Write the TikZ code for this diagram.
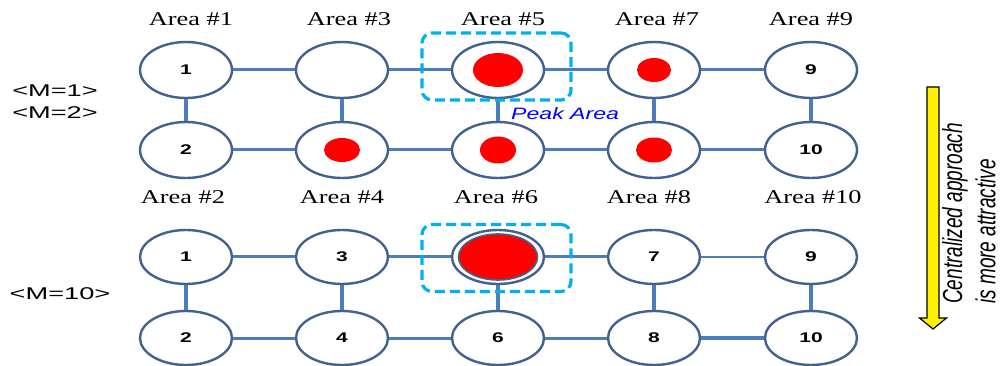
\documentclass[tikz,border=0pt]{standalone}
\usepackage{fontspec}
\setmainfont{Liberation Serif}
\newfontfamily\areafont[FakeStretch=1.35]{Liberation Serif}
\newfontfamily\mfont[FakeStretch=1.6]{Liberation Sans}
\newfontfamily\numfont[FakeStretch=1.5]{Liberation Sans}
\newfontfamily\peakfont[FakeStretch=1.4]{Liberation Sans}
\newfontfamily\rotfont{Liberation Sans}
\usetikzlibrary{shapes.geometric}
\definecolor{ringc}{HTML}{41618F}
\definecolor{edgec}{HTML}{4A7EBB}
\definecolor{peakc}{HTML}{00B0F0}
\tikzset{
  area/.style={ellipse, draw=ringc, line width=2.4pt, minimum width=92pt, minimum height=56pt, inner sep=0pt, fill=white, font=\numfont\bfseries\fontsize{14}{16}\selectfont},
  areab/.style={area, minimum height=54pt},
  hedge/.style={draw=edgec, line width=3pt},
  vedge/.style={draw=edgec, line width=4.5pt},
  dot/.style={ellipse, fill=red, inner sep=0pt},
  peak/.style={rectangle, draw=peakc, line width=3.2pt, dash pattern=on 10pt off 5pt, rounded corners=10pt, minimum width=149pt, minimum height=67pt, inner sep=0pt},
  lbl/.style={font=\areafont\fontsize{19.5}{22}\selectfont, anchor=base, inner sep=0pt},
  mlbl/.style={font=\mfont\fontsize{17}{19}\selectfont, anchor=base, inner sep=0pt},
}
\begin{document}
\begin{tikzpicture}[x=1pt,y=-1pt]
\useasboundingbox (0,0) rectangle (1002,366);
% area labels
\node[lbl] (la1) at (191,26) {Area \#1};
\node[lbl] (la3) at (349,26) {Area \#3};
\node[lbl] (la5) at (503,26) {Area \#5};
\node[lbl] (la7) at (657,26) {Area \#7};
\node[lbl] (la9) at (811,26) {Area \#9};
\node[lbl] (la2) at (183,204) {Area \#2};
\node[lbl] (la4) at (342,204) {Area \#4};
\node[lbl] (la6) at (496,204) {Area \#6};
\node[lbl] (la8) at (649,204) {Area \#8};
\node[lbl] (la10) at (813,204) {Area \#10};
% M labels
\node[mlbl] (m1) at (55,97) {<M=1>};
\node[mlbl] (m2) at (55,119) {<M=2>};
\node[mlbl] (m10) at (60,300) {<M=10>};
% top grid
\node[area] (t11) at (186,70) {1};
\node[area] (t12) at (342,70) {};
\node[area] (t13) at (498,70) {};
\node[area] (t14) at (654,70) {};
\node[area] (t15) at (811,70) {9};
\node[area] (t21) at (186,150) {2};
\node[area] (t22) at (342,150) {};
\node[area] (t23) at (498,150) {};
\node[area] (t24) at (654,150) {};
\node[area] (t25) at (811,150) {10};
% bottom grid
\node[areab] (b11) at (186,257) {1};
\node[areab] (b12) at (342,257) {3};
\node[areab] (b13) at (498,257) {};
\node[areab] (b14) at (654,257) {7};
\node[areab] (b15) at (811,257) {9};
\node[areab] (b21) at (186,338) {2};
\node[areab] (b22) at (342,338) {4};
\node[areab] (b23) at (498,338) {6};
\node[areab] (b24) at (654,338) {8};
\node[areab] (b25) at (811,338) {10};
% edges top
\draw[hedge] (t11) -- (t12);
\draw[hedge] (t12) -- (t13);
\draw[hedge] (t13) -- (t14);
\draw[hedge] (t14) -- (t15);
\draw[hedge] (t21) -- (t22);
\draw[hedge] (t22) -- (t23);
\draw[hedge] (t23) -- (t24);
\draw[hedge] (t24) -- (t25);
\draw[vedge] (t11) -- (t21);
\draw[vedge] (t12) -- (t22);
\draw[vedge] (t13) -- (t23);
\draw[vedge] (t14) -- (t24);
\draw[vedge] (t15) -- (t25);
% edges bottom
\draw[hedge] (b11) -- (b12);
\draw[hedge] (b12) -- (b13);
\draw[hedge] (b13) -- (b14);
\draw[hedge, line width=1.8pt] (b14) -- (b15);
\draw[hedge] (b21) -- (b22);
\draw[hedge] (b22) -- (b23);
\draw[hedge] (b23) -- (b24);
\draw[hedge, line width=4.5pt] (b24) -- (b25);
\draw[vedge] (b11) -- (b21);
\draw[vedge] (b12) -- (b22);
\draw[vedge] (b13) -- (b23);
\draw[vedge] (b14) -- (b24);
\draw[vedge] (b15) -- (b25);
% red dots
\node[dot, minimum width=50pt, minimum height=34pt] (d5) at (t13) {};
\node[dot, minimum width=34pt, minimum height=24pt] (d7) at (t14) {};
\node[dot, minimum width=36pt, minimum height=24pt] (d4) at (t22) {};
\node[dot, minimum width=36pt, minimum height=27pt] (d6a) at (t23) {};
\node[dot, minimum width=36pt, minimum height=25pt] (d8) at (t24) {};
\node[ellipse, fill=red, draw=ringc, line width=1.6pt, minimum width=79pt, minimum height=46pt, inner sep=0pt] (d6) at (b13) {};
% peak boxes
\node[peak] (pk1) at (496.5,66.5) {};
\node[peak] (pk2) at (496.5,258) {};
\node[font=\peakfont\itshape\fontsize{16.5}{18}\selectfont, text=blue, anchor=base west, inner sep=0pt] (pa) at (511,120) {Peak Area};
% arrow
\draw[fill=yellow, draw=black, line width=1.2pt, line join=miter] (927,87) -- (939,87) -- (939,318) -- (946.5,318) -- (933,329) -- (919.5,318) -- (927,318) -- cycle;
\node[anchor=south, inner sep=0pt] (rt) at (972,304) {\scalebox{1.45}[1]{\rotatebox{90}{\rotfont\itshape\fontsize{19}{23}\selectfont\begin{tabular}{@{}l@{}}Centralized approach\\is more attractive\end{tabular}}}};
\end{tikzpicture}
\end{document}
